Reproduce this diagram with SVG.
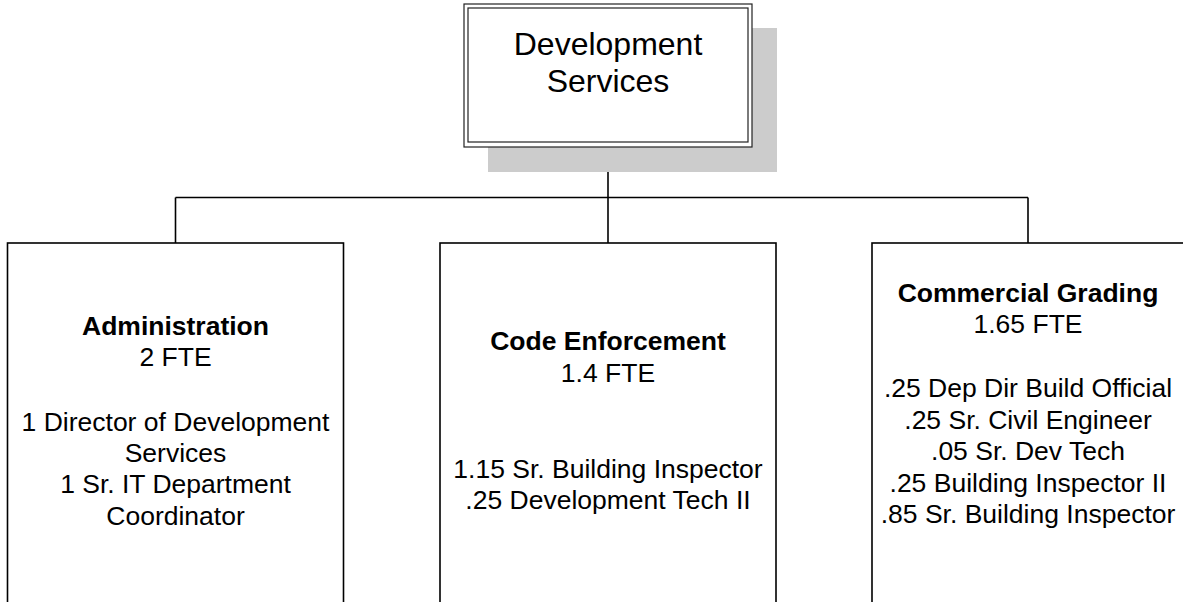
<svg xmlns="http://www.w3.org/2000/svg" width="1183" height="602" viewBox="0 0 1183 602">
  <style>
    text { font-family: "Liberation Sans", Arial, sans-serif; fill: #000; text-anchor: middle; }
    .title { font-size: 32px; }
    .head { font-size: 26.5px; font-weight: bold; }
    .body { font-size: 26.5px; }
    .box { fill: #fff; stroke: #000; stroke-width: 1.6; }
    .frame { fill: none; stroke: #222; stroke-width: 1.2; }
    .wire { fill: none; stroke: #000; stroke-width: 1.6; }
  </style>
  <rect width="1183" height="602" fill="#fff"/>

  <!-- connectors -->
  <g id="connectors">
    <path class="wire" d="M608,147 V197.5"/>
    <path class="wire" d="M175.5,197.5 H1028"/>
    <path class="wire" d="M175.5,197.5 V243"/>
    <path class="wire" d="M608,197.5 V243"/>
    <path class="wire" d="M1028,197.5 V243"/>
  </g>

  <!-- root node with drop shadow and double frame -->
  <g id="development-services">
    <rect x="488" y="28" width="289" height="144" fill="#cccccc"/>
    <rect x="464" y="4" width="288" height="143" fill="#fff" stroke="#222" stroke-width="1.2"/>
    <rect x="468" y="8" width="280" height="134" class="frame"/>
    <text class="title" x="608" y="55">Development</text>
    <text class="title" x="608" y="92">Services</text>
  </g>

  <g id="administration">
    <rect class="box" x="7.5" y="243" width="336" height="380"/>
    <text class="head" x="175.5" y="335">Administration</text>
    <text class="body" x="175.5" y="366">2 FTE</text>
    <text class="body" x="175.5" y="431">1 Director of Development</text>
    <text class="body" x="175.5" y="462">Services</text>
    <text class="body" x="175.5" y="493">1 Sr. IT Department</text>
    <text class="body" x="175.5" y="525">Coordinator</text>
  </g>

  <g id="code-enforcement">
    <rect class="box" x="440" y="243" width="336" height="380"/>
    <text class="head" x="608" y="350">Code Enforcement</text>
    <text class="body" x="608" y="382">1.4 FTE</text>
    <text class="body" x="608" y="478">1.15 Sr. Building Inspector</text>
    <text class="body" x="608" y="509">.25 Development Tech II</text>
  </g>

  <g id="commercial-grading">
    <rect class="box" x="872" y="243" width="336" height="380"/>
    <text class="head" x="1028" y="302">Commercial Grading</text>
    <text class="body" x="1028" y="333">1.65 FTE</text>
    <text class="body" x="1028" y="397">.25 Dep Dir Build Official</text>
    <text class="body" x="1028" y="428.5">.25 Sr. Civil Engineer</text>
    <text class="body" x="1028" y="460">.05 Sr. Dev Tech</text>
    <text class="body" x="1028" y="491.5">.25 Building Inspector II</text>
    <text class="body" x="1028" y="523">.85 Sr. Building Inspector</text>
  </g>
</svg>
